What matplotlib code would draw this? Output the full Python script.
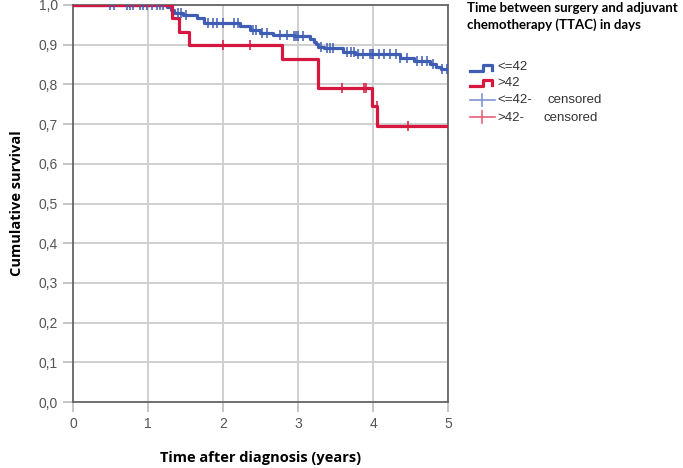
import numpy as np
import matplotlib
matplotlib.use('Agg')
import matplotlib.pyplot as plt
from matplotlib.lines import Line2D

# Kaplan-Meier steps (time in years, survival after each drop)
blue_event_t = [1.25, 1.30, 1.34, 1.47, 1.65, 1.74, 2.23, 2.36, 2.49, 2.67, 2.94,
                3.16, 3.21, 3.24, 3.27, 3.34, 3.60, 3.76, 4.00, 4.36, 4.54, 4.76,
                4.84, 4.90]
blue_surv = [0.995, 0.987, 0.979, 0.974, 0.966, 0.955, 0.946, 0.936, 0.929, 0.925,
             0.921, 0.914, 0.907, 0.901, 0.895, 0.892, 0.882, 0.877, 0.876, 0.866,
             0.859, 0.851, 0.845, 0.838]
blue_cens_t = [0.49, 0.54, 0.72, 0.76, 0.80, 0.89, 0.93, 0.98, 1.05, 1.12, 1.16,
               1.20, 1.40, 1.44, 1.51, 1.80, 1.87, 1.92, 2.00, 2.14, 2.20, 2.40,
               2.44, 2.52, 2.58, 2.76, 2.85, 2.94, 2.97, 3.00, 3.07, 3.30, 3.38,
               3.42, 3.47, 3.65, 3.70, 3.74, 3.80, 3.86, 3.96, 3.98, 4.00, 4.08,
               4.14, 4.23, 4.30, 4.36, 4.45, 4.58, 4.65, 4.72, 4.80, 4.92, 4.98]

red_event_t = [1.32, 1.41, 1.55, 2.79, 3.26, 3.99, 4.06]
red_surv = [0.967, 0.933, 0.900, 0.864, 0.792, 0.746, 0.694]
red_cens_t = [2.00, 2.36, 3.59, 3.88, 3.91, 4.05, 4.47]

t_max = 5.0
x_ticks = [0, 1, 2, 3, 4, 5]
y_ticks = np.round(np.arange(0, 1.01, 0.1), 1)
y_tick_labels = [f'{v:.1f}'.replace('.', ',') for v in y_ticks]

blue = '#3F5DB3'
red = '#D6173F'


def km_curve(event_t, surv):
    t = np.concatenate([[0.0], event_t, [t_max]])
    s = np.concatenate([[1.0], surv, [surv[-1]]])
    return t, s


def surv_at(event_t, surv, times):
    idx = np.searchsorted(event_t, times, side='right')
    s = np.concatenate([[1.0], surv])
    return s[idx]


plt.rcParams['font.family'] = ['Liberation Sans', 'DejaVu Sans']

fig = plt.figure(figsize=(6.83, 4.68), dpi=100)
ax = fig.add_axes([73 / 683, 66 / 468, 375 / 683, 397 / 468])

for ev, sv, ce, col in [(blue_event_t, blue_surv, blue_cens_t, blue),
                        (red_event_t, red_surv, red_cens_t, red)]:
    t, s = km_curve(ev, sv)
    ax.step(t, s, where='post', color=col, lw=2.3, zorder=3)
    ax.plot(ce, surv_at(ev, sv, ce), ls='none', marker='|', ms=6.5, mew=1.1,
            color=col, zorder=4)

ax.set_xlim(0, 5)
ax.set_ylim(0, 1)
ax.set_xticks(x_ticks)
ax.set_yticks(y_ticks)
ax.set_yticklabels(y_tick_labels)
ax.grid(True, color='#CFCFCF', lw=1.4)
ax.set_axisbelow(True)
ax.tick_params(axis='both', length=7, width=1.2, color='#BBBBBB',
               labelcolor='#555555', labelsize=10, pad=4)
for sp in ax.spines.values():
    sp.set_color('#666666')
    sp.set_linewidth(1.3)

lab_font = ['Open Sans', 'DejaVu Sans']
ax.set_xlabel('Time after diagnosis (years)', fontsize=10.5, fontweight='bold',
              family=lab_font, labelpad=14)
ax.set_ylabel('Cumulative survival', fontsize=10.5, fontweight='bold',
              family=lab_font, labelpad=10)

# legend drawn by hand to mimic the SPSS style
def fx(px):
    return px / 683


def fy(py):
    return 1 - py / 468


fig.text(fx(467), fy(2), 'Time between surgery and adjuvant\nchemotherapy (TTAC) in days',
         fontsize=9.5, fontweight='bold', family=['Lato', 'DejaVu Sans'],
         va='top', ha='left', linespacing=1.4)

for py, col in [(68, blue), (83, red)]:
    xs = [fx(470), fx(483), fx(483), fx(492), fx(492)]
    ys = [fy(py + 3), fy(py + 3), fy(py - 3), fy(py - 3), fy(py + 2)]
    fig.add_artist(Line2D(xs, ys, color=col, lw=2.3, transform=fig.transFigure))
for py, col in [(100, '#7F95D0'), (117, '#E5607A')]:
    fig.add_artist(Line2D([fx(470), fx(495)], [fy(py), fy(py)], color=col, lw=1.2,
                          transform=fig.transFigure))
    fig.add_artist(Line2D([fx(482), fx(482)], [fy(py - 6), fy(py + 6)], color=col,
                          lw=1.2, transform=fig.transFigure))

leg_font = dict(fontsize=9.5, color='#333333', va='center', ha='left')
fig.text(fx(497), fy(67), '<=42', **leg_font)
fig.text(fx(497), fy(83), '>42', **leg_font)
fig.text(fx(497), fy(100), '<=42-', **leg_font)
fig.text(fx(548), fy(100), 'censored', **leg_font)
fig.text(fx(497), fy(118), '>42-', **leg_font)
fig.text(fx(543), fy(118), 'censored', **leg_font)

fig.savefig('out.png', dpi=100)
